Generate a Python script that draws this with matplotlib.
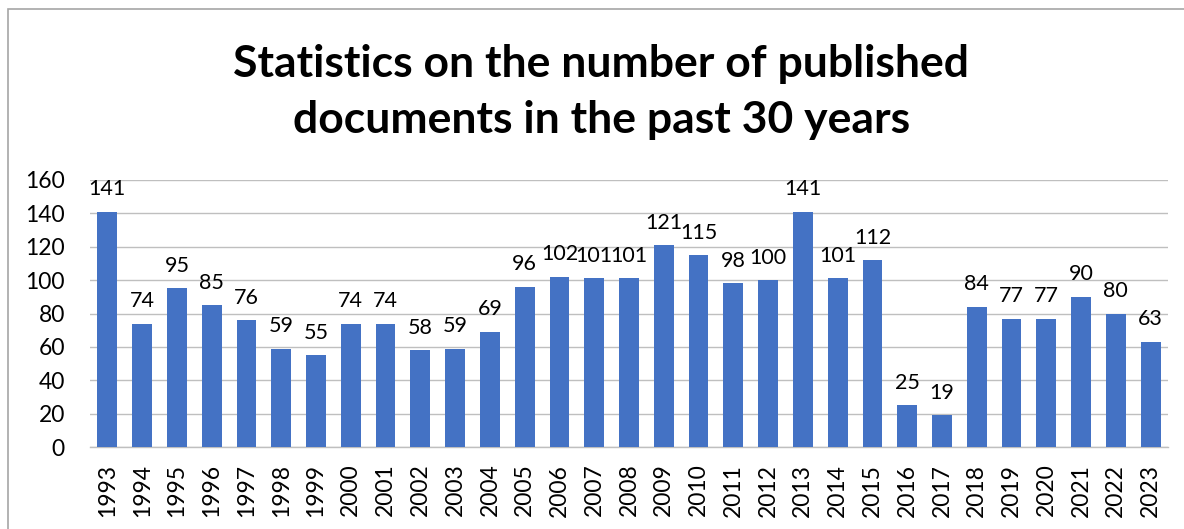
import matplotlib
matplotlib.use("Agg")
import matplotlib.pyplot as plt
from matplotlib.patches import Rectangle

years = [str(y) for y in range(1993, 2024)]
counts = [141, 74, 95, 85, 76, 59, 55, 74, 74, 58, 59, 69, 96, 102, 101, 101,
          121, 115, 98, 100, 141, 101, 112, 25, 19, 84, 77, 77, 90, 80, 63]
title = "Statistics on the number of published\ndocuments in the past 30 years"

plt.rcParams['font.family'] = ['Lato', 'DejaVu Sans']
W, H = 1184, 529
fig = plt.figure(figsize=(W / 100, H / 100), dpi=100)
fig.patch.set_facecolor('white')

# chart frame (extends past right/bottom edge)
fig.add_artist(Rectangle((8 / W, -0.1), 1.2, 1 - 9 / H + 0.1, transform=fig.transFigure,
                         fill=False, edgecolor='#A6A6A6', linewidth=1.2))

ax = fig.add_axes([90 / W, 1 - 447 / H, (1168 - 90) / W, (447 - 180) / H])
x = range(len(years))
bars = ax.bar(x, counts, width=0.57, color='#4472C4', zorder=3)
ax.set_xlim(-0.5, len(years) - 0.5)
ax.set_ylim(0, 160)
ax.set_yticks(range(0, 161, 20))
ax.set_xticks(list(x))
ax.set_xticklabels(years, rotation=90, fontsize=16.5)
ax.tick_params(axis='y', labelsize=16.5, length=0, pad=18)
ax.tick_params(axis='x', length=0, pad=12)
ax.grid(axis='y', color='#BFBFBF', linewidth=1.0, zorder=0)
for s in ['top', 'right', 'left']:
    ax.spines[s].set_visible(False)
ax.spines['bottom'].set_color('#BFBFBF')
ax.spines['bottom'].set_linewidth(1.0)

for xi, v in zip(x, counts):
    ax.annotate(str(v), (xi, v), xytext=(0, 9), textcoords='offset points',
                ha='center', va='bottom', fontsize=15.5)

fig.text(0.508, 1 - 92 / H, title, ha='center', va='center', fontsize=32,
         fontweight='bold', linespacing=1.5)

fig.savefig('out.png', dpi=100)
